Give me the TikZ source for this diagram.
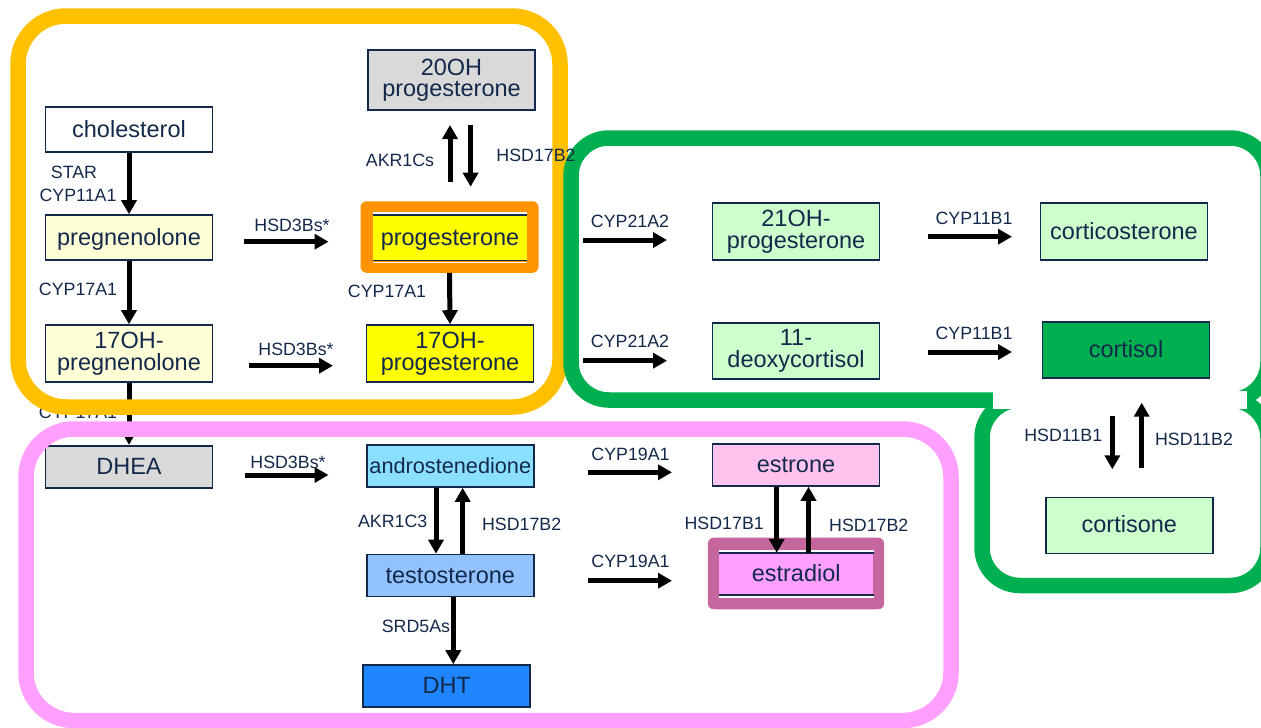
\documentclass[tikz,border=0pt]{standalone}
\usepackage{fontspec}
\setmainfont{Liberation Sans}
\usetikzlibrary{arrows.meta}
\definecolor{navy}{HTML}{13294B}
\definecolor{bandorange}{HTML}{FFC000}
\definecolor{bandgreen}{HTML}{00B050}
\definecolor{bandpink}{HTML}{FFA0FF}
\definecolor{progorange}{HTML}{FF9400}
\definecolor{mauve}{HTML}{C5669F}
\definecolor{lightyellow}{HTML}{FFFFD7}
\definecolor{lightgreen}{HTML}{CCFFCC}
\definecolor{midgreen}{HTML}{00B050}
\definecolor{lightgray}{HTML}{D9D9D9}
\definecolor{androblue}{HTML}{8CE0FF}
\definecolor{testoblue}{HTML}{92C3FF}
\definecolor{dhtblue}{HTML}{1F86FF}
\definecolor{estronepink}{HTML}{FFC3EE}
\definecolor{estradiolpink}{HTML}{FF9FFF}
\definecolor{pureyellow}{HTML}{FFFF00}
\newcommand\mfs{\fontsize{23.5}{21.5}\selectfont}
\newcommand\afs{\fontsize{21.7}{20}\selectfont}
\newcommand\lfs{\fontsize{17.8}{19}\selectfont}
\begin{document}
\begin{tikzpicture}[x=1pt,y=-1pt,
  box/.style={draw=navy,line width=1.6pt,inner sep=0pt,text=navy,font=\mfs,align=center,minimum width=167pt},
  oneline/.style={text height=18pt,text depth=3pt},
  lab/.style={text=navy,font=\lfs,inner sep=0pt},
  arr/.style={line width=5pt,-{Triangle[width=15pt,length=14pt]}},
  band/.style={line width=15.5pt}]
\useasboundingbox (0,0) rectangle (1261,728);

% ---------- nodes ----------
\node[box,oneline,fill=white,minimum height=45pt] (chol) at (129,129.5) {cholesterol};
\node[box,fill=lightgray,minimum height=60pt] (oh20) at (451.5,80) {20OH\\progesterone};
\node[box,oneline,fill=lightyellow,minimum height=45pt] (preg) at (129,237.5) {pregnenolone};
\node[box,fill=lightyellow,minimum height=57pt] (ohpreg) at (129,353.5) {17OH-\\pregnenolone};
\node[fill=progorange,rounded corners=6pt,minimum width=178pt,minimum height=71.5pt,inner sep=0pt] (progframe) at (449.5,237) {};
\node[fill=pureyellow,inner sep=0pt,text=navy,font=\mfs,oneline,minimum width=154pt,minimum height=45.5pt] (prog) at (450,237.7) {progesterone};
\node[box,fill=pureyellow,minimum height=57pt] (ohprog) at (450,353.5) {17OH-\\progesterone};
\node[box,oneline,fill=lightgray,minimum height=42pt] (dhea) at (129,466.7) {DHEA};
\node[box,oneline,fill=androblue,minimum height=42pt,font=\afs] (andro) at (450.3,466) {androstenedione};
\node[box,oneline,fill=testoblue,minimum height=42pt] (testo) at (450.3,575.5) {testosterone};
\node[box,oneline,fill=dhtblue,minimum height=42pt] (dht) at (446.7,686) {DHT};
\node[box,oneline,fill=estronepink,minimum height=42pt] (estrone) at (796,465) {estrone};
\node[fill=mauve,rounded corners=6pt,minimum width=176.3pt,minimum height=71.6pt,inner sep=0pt] (estrframe) at (796,573.5) {};
\node[fill=estradiolpink,inner sep=0pt,text=navy,font=\mfs,oneline,minimum width=154.3pt,minimum height=42pt] (estr) at (796.2,574) {estradiol};
\node[box,fill=lightgreen,minimum height=57pt] (oh21) at (796,231.7) {21OH-\\progesterone};
\node[box,oneline,fill=lightgreen,minimum height=57pt] (cortico) at (1124,231.7) {corticosterone};
\node[box,fill=lightgreen,minimum height=56pt] (deoxy) at (796,351) {11-\\deoxycortisol};
\node[box,oneline,fill=midgreen,minimum height=56pt] (cortisol) at (1126,350) {cortisol};
\node[box,oneline,fill=lightgreen,minimum height=56pt] (cortisone) at (1129.3,525.3) {cortisone};

% double edge lines of the framed nodes
\foreach \n in {prog,estr}{
  \draw[white,line width=1.6pt] ([yshift=1.8pt]\n.north west) -- ([yshift=1.8pt]\n.north east)
                                ([yshift=-1.8pt]\n.south west) -- ([yshift=-1.8pt]\n.south east);
  \draw[navy,line width=1.6pt] (\n.north west) -- (\n.north east) (\n.south west) -- (\n.south east);
}

% ---------- items hidden under the bands ----------
\node[lab] (l17c) at (78,412) {CYP17A1};
\draw[arr] (ohpreg.south) -- (dhea.north);

% ---------- bands ----------
\draw[band,draw=bandpink,rounded corners=48pt] (26,429) rectangle (951,720.5);
\draw[band,draw=bandorange,rounded corners=48pt] (18,16) rectangle (560,407);
\begin{scope}
  \clip (0,0) rectangle (1261,728);
  \draw[band,draw=bandgreen,rounded corners=38pt] (571,138) rectangle (1268,400);
  \draw[band,draw=bandgreen,rounded corners=38pt] (982,400) rectangle (1268,585.5);
  \fill[white] (993,391) rectangle (1247,409);
\end{scope}

% ---------- connectors ----------
\draw[arr] (chol.south) -- (preg.north);
\draw[arr] (preg.south) -- (ohpreg.north);
\draw[arr] (progframe.south) -- (ohprog.north);

\coordinate (a1s) at (450,181.7);  \coordinate (a1e) at (450,125);
\coordinate (a2s) at (470.6,125);  \coordinate (a2e) at (470.6,186.7);
\draw[arr] (a1s) -- (a1e);
\draw[arr] (a2s) -- (a2e);

\coordinate (h1s) at (244,241.7);  \coordinate (h1e) at (328.5,241.7);
\coordinate (h2s) at (248.6,365.7); \coordinate (h2e) at (333,365.7);
\coordinate (h3s) at (245,475);    \coordinate (h3e) at (328.5,475);
\draw[arr] (h1s) -- (h1e);
\draw[arr] (h2s) -- (h2e);
\draw[arr] (h3s) -- (h3e);

\coordinate (c1s) at (583,240);    \coordinate (c1e) at (667,240);
\coordinate (c2s) at (583,360.7);  \coordinate (c2e) at (667,360.7);
\coordinate (d1s) at (927.5,236.7); \coordinate (d1e) at (1012,236.7);
\coordinate (d2s) at (927.5,352);  \coordinate (d2e) at (1012,352);
\draw[arr] (c1s) -- (c1e);
\draw[arr] (c2s) -- (c2e);
\draw[arr] (d1s) -- (d1e);
\draw[arr] (d2s) -- (d2e);

\coordinate (e1s) at (588.3,472.3); \coordinate (e1e) at (672,472.3);
\coordinate (e2s) at (588.3,580.7); \coordinate (e2e) at (672,580.7);
\draw[arr] (e1s) -- (e1e);
\draw[arr] (e2s) -- (e2e);

\draw[arr] ([xshift=-14.3pt]andro.south) -- ([xshift=-14.3pt]testo.north);
\draw[arr] ([xshift=12.4pt]testo.north) -- ([xshift=12.4pt]andro.south);
\draw[arr] ([xshift=3pt]testo.south) -- ([xshift=3pt]testo.south |- dht.north);

\draw[arr] ([xshift=-19.3pt]estrone.south) -- ([xshift=-19.3pt]estrone.south |- estr.north);
\draw[arr] ([xshift=12.3pt]estr.north) -- ([xshift=12.3pt]estr.north |- estrone.south);

\coordinate (k1s) at (1112.3,416);   \coordinate (k1e) at (1112.3,469.3);
\coordinate (k2s) at (1141.7,467.7); \coordinate (k2e) at (1141.7,402.7);
\draw[arr] (k1s) -- (k1e);
\draw[arr] (k2s) -- (k2e);

% ---------- labels ----------
\node[lab] (lstar) at (74,172) {STAR};
\node[lab] (lcyp11a1) at (78,195.5) {CYP11A1};
\node[lab] (l17a) at (78,289) {CYP17A1};
\node[lab] (lakr1cs) at (400,160) {AKR1Cs};
\node[lab] (lhsd17b2a) at (536,155) {HSD17B2};
\node[lab] (lhsd3a) at (292,225) {HSD3Bs*};
\node[lab] (lhsd3b) at (296,349) {HSD3Bs*};
\node[lab] (lhsd3c) at (288,462.5) {HSD3Bs*};
\node[lab] (l17b) at (387,291.5) {CYP17A1};
\node[lab] (lc21a) at (630,221.5) {CYP21A2};
\node[lab] (lc21b) at (630,341.5) {CYP21A2};
\node[lab] (lc11a) at (974,218) {CYP11B1};
\node[lab] (lc11b) at (974,333) {CYP11B1};
\node[lab] (lh11b1) at (1063.3,435) {HSD11B1};
\node[lab] (lh11b2) at (1194,439) {HSD11B2};
\node[lab] (lakr1c3) at (392.7,521) {AKR1C3};
\node[lab] (lhsd17b2b) at (521.7,524) {HSD17B2};
\node[lab] (lsrd) at (416,626.5) {SRD5As};
\node[lab] (lc19a) at (630.5,454.2) {CYP19A1};
\node[lab] (lc19b) at (630.5,561) {CYP19A1};
\node[lab] (lh17b1) at (724.2,523.3) {HSD17B1};
\node[lab] (lhsd17b2c) at (868.8,525) {HSD17B2};
\end{tikzpicture}
\end{document}
